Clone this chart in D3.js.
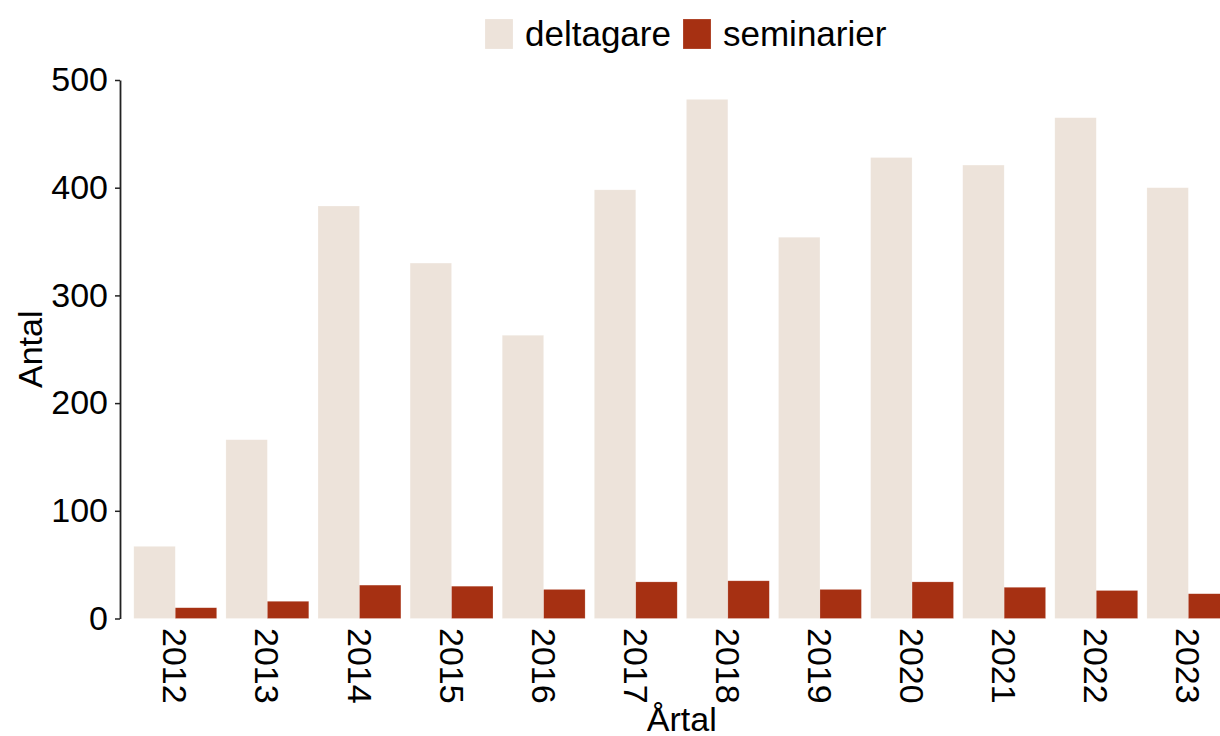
<!DOCTYPE html>
<html>
<head>
<meta charset="utf-8">
<script src="https://cdn.jsdelivr.net/npm/d3@7"></script>
<style>
  body { margin: 0; background: #fff; }
  svg { display: block; font-family: "Liberation Sans", Arial, sans-serif; }
</style>
</head>
<body>
<div id="chart"></div>
<script>
// ==== Data ====
const years = ["2012","2013","2014","2015","2016","2017","2018","2019","2020","2021","2022","2023"];
const deltagare = [67, 166, 383, 330, 263, 398, 482, 354, 428, 421, 465, 400];
const seminarier = [10, 16, 31, 30, 27, 34, 35, 27, 34, 29, 26, 23];
const seriesNames = ["deltagare", "seminarier"];
const yTicks = [0, 100, 200, 300, 400, 500];

// ==== Setup ====
const width = 1220, height = 736;
const plot = { left: 120, top: 80, bottom: 618.5 };
const step = 92.1;
const colors = { deltagare: "#ede3da", seminarier: "#a63012" };

const svg = d3.select("#chart")
    .append("svg")
    .attr("width", width)
    .attr("height", height);

// === Scales ===
let xScale = d3.scaleBand()
    .domain(years)
    .range([plot.left, plot.left + 12.2 * step])
    .paddingInner(0.1)
    .paddingOuter(0.15);

let xSub = d3.scaleBand()
    .domain(seriesNames)
    .range([0, xScale.bandwidth()]);

let yScale = d3.scaleLinear()
    .domain([0, 500])
    .range([plot.bottom, plot.top]);

const rows = years.map((y, i) => ({ year: y, deltagare: deltagare[i], seminarier: seminarier[i] }));

// === Bars ===
const groups = svg.append("g")
    .selectAll("g")
    .data(rows)
    .join("g")
    .attr("transform", d => `translate(${xScale(d.year)},0)`);

groups.selectAll("rect")
    .data(d => seriesNames.map(k => ({ key: k, value: d[k] })))
    .join("rect")
    .attr("x", d => xSub(d.key))
    .attr("width", xSub.bandwidth())
    .attr("y", d => yScale(d.value))
    .attr("height", d => yScale(0) - yScale(d.value))
    .attr("fill", d => colors[d.key])
    .attr("stroke", "#ffffff")
    .attr("stroke-opacity", 0.35)
    .attr("stroke-width", 0.6);

// === Axes ===
let yAxis = d3.axisLeft(yScale)
    .tickValues(yTicks)
    .tickSize(5)
    .tickSizeOuter(0)
    .tickPadding(7);

const gy = svg.append("g")
    .attr("transform", `translate(${plot.left},0)`)
    .call(yAxis);
gy.select(".domain").attr("stroke", "#222").attr("stroke-width", 1.8);
gy.selectAll(".tick line").attr("stroke", "#222").attr("stroke-width", 1.5);
gy.selectAll(".tick text")
    .attr("fill", "#000")
    .style("font-size", "34px")
    .style("font-family", "'Liberation Sans', Arial, sans-serif");

// x tick labels, rotated
svg.append("g")
    .selectAll("text")
    .data(years)
    .join("text")
    .attr("transform", d => `translate(${xScale(d) + xScale.bandwidth() / 2},628) rotate(90)`)
    .attr("dy", "0.35em")
    .attr("text-anchor", "start")
    .style("font-size", "34px")
    .text(d => d);

// axis titles
svg.append("text")
    .attr("x", (plot.left + plot.left + 12.2 * step) / 2)
    .attr("y", 731)
    .attr("text-anchor", "middle")
    .style("font-size", "34px")
    .text("Årtal");

svg.append("text")
    .attr("transform", `translate(42,${(plot.top + plot.bottom) / 2}) rotate(-90)`)
    .attr("text-anchor", "middle")
    .style("font-size", "34px")
    .text("Antal");

// === Legend ===
const legendX = [485, 683];
const legend = svg.append("g")
    .selectAll("g")
    .data(seriesNames)
    .join("g")
    .attr("transform", (d, i) => `translate(${legendX[i]},19)`);

legend.append("rect")
    .attr("width", 28)
    .attr("height", 30)
    .attr("fill", d => colors[d])
    .attr("stroke", "#ffffff")
    .attr("stroke-opacity", 0.35)
    .attr("stroke-width", 0.6);

legend.append("text")
    .attr("x", 40)
    .attr("y", 27)
    .style("font-size", "35px")
    .text(d => d);
</script>
</body>
</html>
